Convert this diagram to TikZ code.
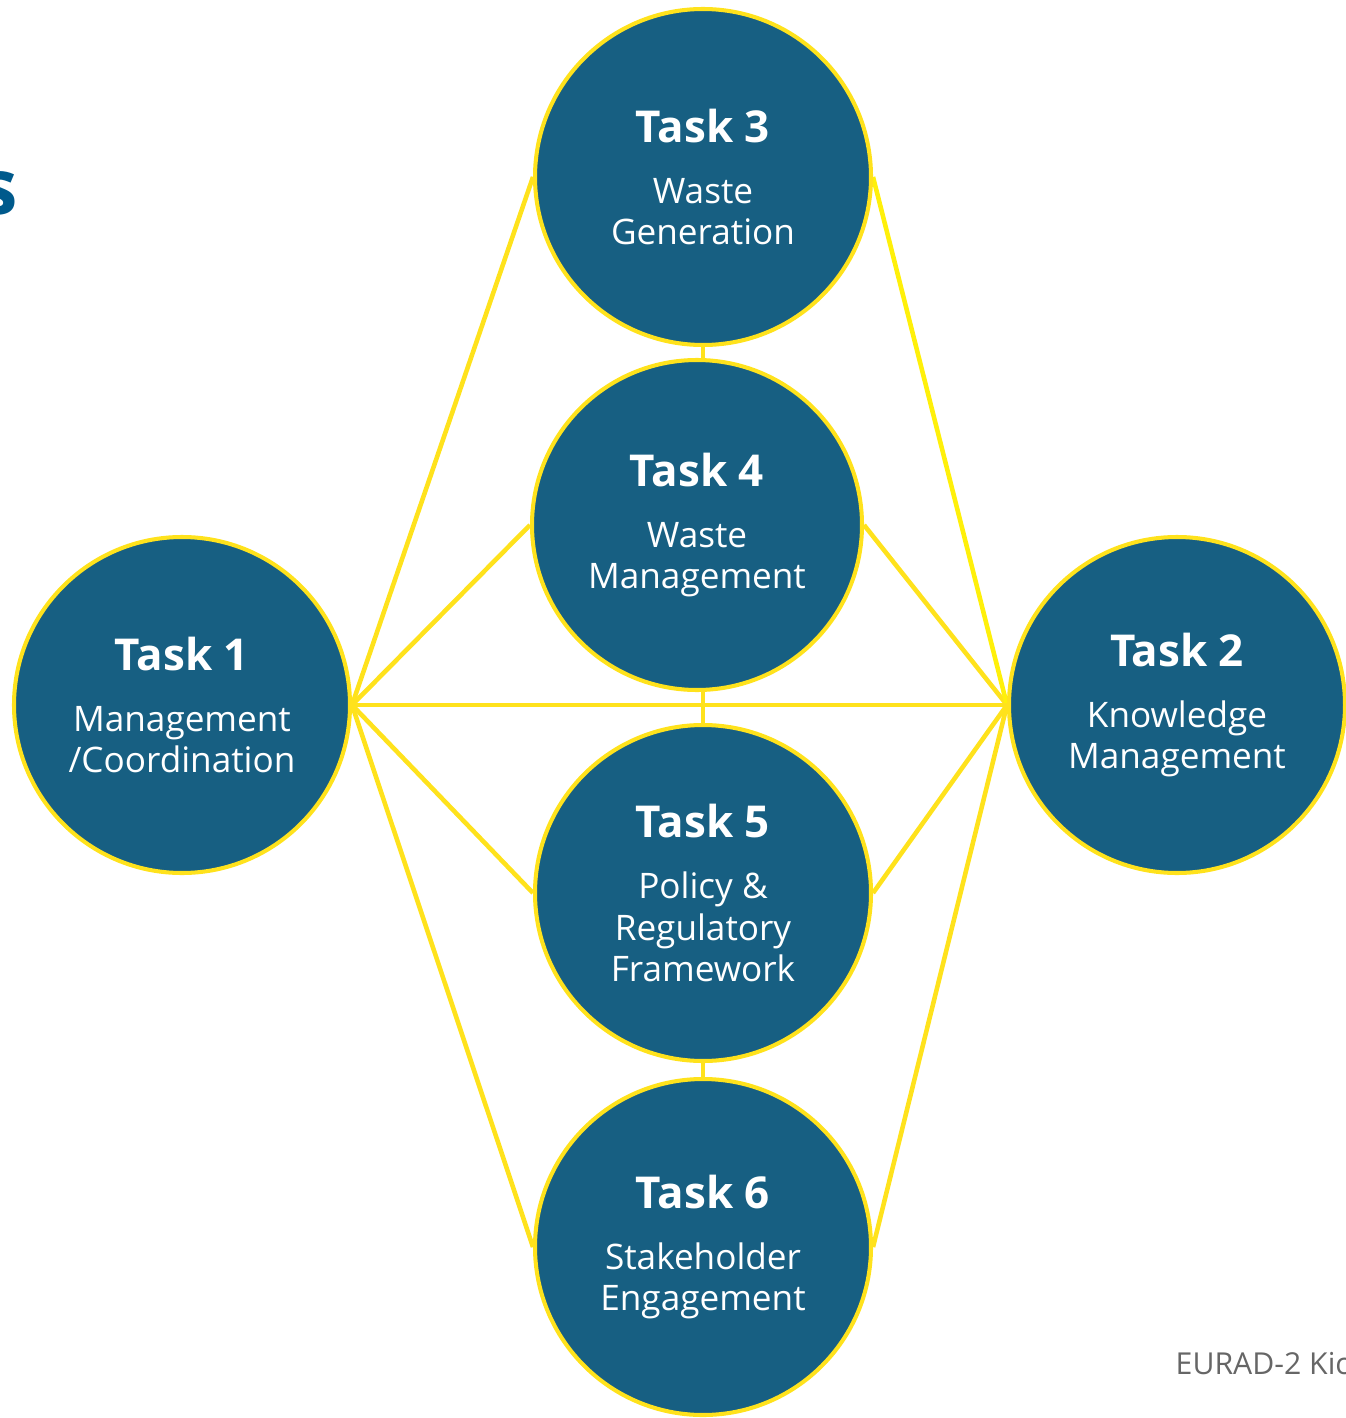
\documentclass[tikz,border=0pt]{standalone}
\usepackage{fontspec}
\setmainfont{Open Sans}
\usetikzlibrary{backgrounds}

\definecolor{taskblue}{RGB}{23,95,130}
\definecolor{linkyellow}{RGB}{255,226,28}
\definecolor{lemon}{RGB}{255,240,10}
\definecolor{headblue}{RGB}{0,90,140}
\definecolor{footgray}{RGB}{102,102,102}

\newcommand{\tasktitle}[1]{{\bfseries\fontsize{12.5}{15}\selectfont #1}\\[5.7pt]}

\begin{document}
\begin{tikzpicture}[
        task/.style={circle, draw=linkyellow, line width=1.15pt, fill=taskblue,
            minimum size=3.36cm, inner sep=0pt, text=white, align=center,
            font=\fontsize{10}{11.7}\selectfont},
        link/.style={draw=linkyellow, line width=1.3pt}
    ]
        % frame
        \useasboundingbox (0,0) rectangle (13.46,-14.18);
        \clip (0,0) rectangle (13.46,-14.18);

        % task circles
        \node[task] (t3) at (7.03,-1.77) {\tasktitle{Task 3}Waste\\Generation};
        \node[task, minimum size=3.30cm] (t4) at (6.97,-5.25) {\tasktitle{Task 4}Waste\\Management};
        \node[task] (t1) at (1.82,-7.05) {\tasktitle{Task 1}Management\\/Coordination};
        \node[task] (t2) at (11.77,-7.05) {\tasktitle{Task 2}Knowledge\\Management};
        \node[task] (t5) at (7.03,-8.93) {\tasktitle{Task 5}Policy \&\\Regulatory\\Framework};
        \node[task] (t6) at (7.03,-12.47) {\tasktitle{Task 6}Stakeholder\\Engagement};

        % links behind the circles
        \begin{scope}[on background layer]
            \foreach \t in {t3,t4,t5,t6}
                \path[link] (t1.east) -- (\t.west);
            \foreach \t in {t4,t5,t6}
                \path[link] (t2.west) -- (\t.east);
            \path[link, draw=lemon] (t2.west) -- (t3.east);
            \path[link] (t1.east) -- (t2.west);
            % straight down the middle column
            \path[link] (t3.south) -- (t3.south |- t4.north);
            \path[link] (t5.north |- t4.south) -- (t5.north);
            \path[link] (t5.south) -- (t6.north);
        \end{scope}

        % cut-off heading and footer
        \node[anchor=base east, inner sep=0pt, text=headblue, font=\bfseries\fontsize{22}{26}\selectfont] (head) at (0.19,-2.15) {s};
        \node[anchor=base west, inner sep=0pt, text=footgray, font=\fontsize{8.6}{10}\selectfont] (foot) at (11.75,-13.74) {EURAD-2 Kic};
    \end{tikzpicture}
\end{document}
